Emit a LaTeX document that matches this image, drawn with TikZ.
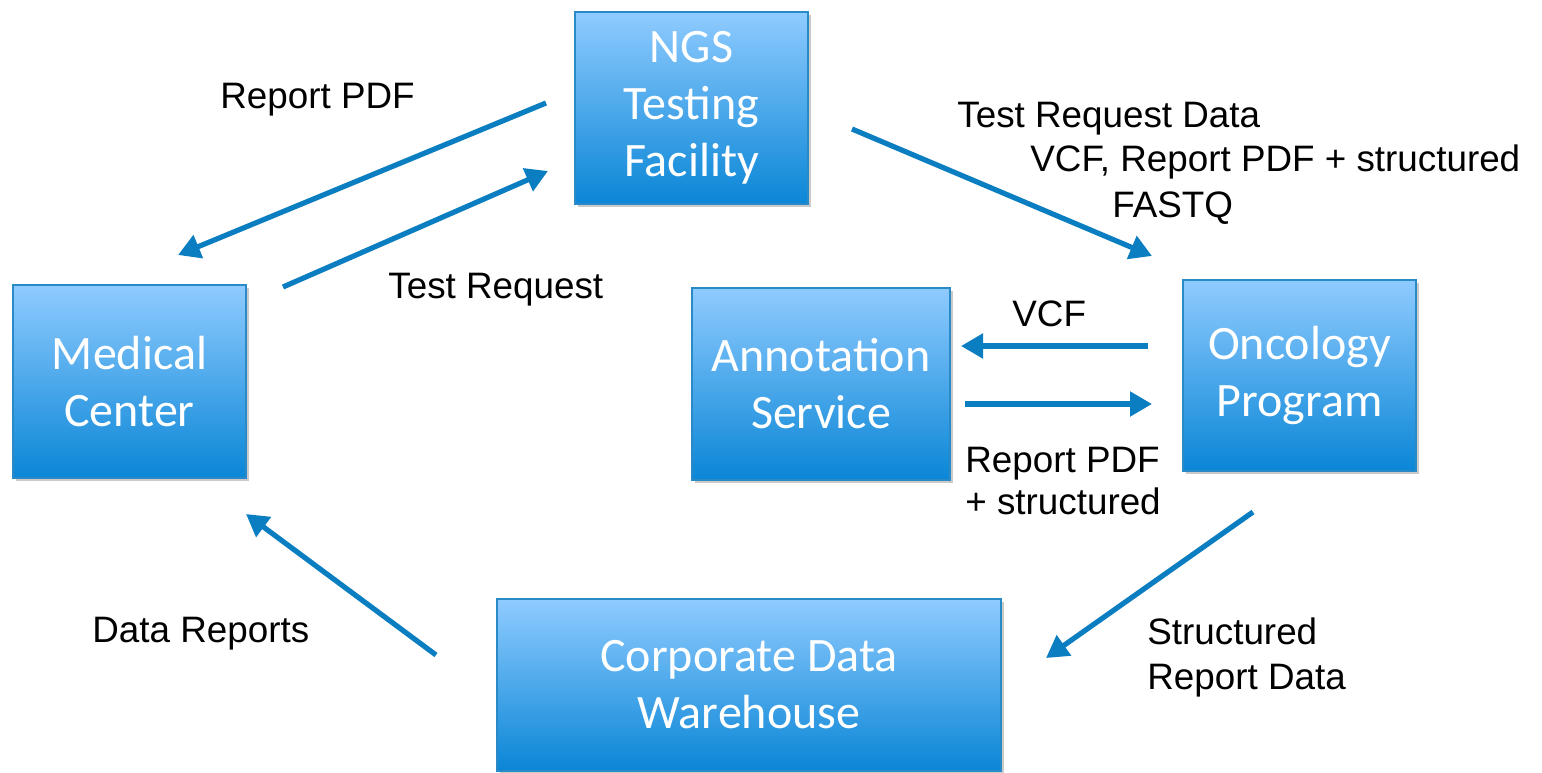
\documentclass[tikz,border=0pt]{standalone}
\usepackage{fontspec}
\setmainfont{Liberation Sans}
\newfontfamily\boxfont{Carlito}
\usetikzlibrary{arrows.meta,shadows}
\definecolor{arrowblue}{HTML}{0A7EC0}
\definecolor{boxtop}{HTML}{8FCBFF}
\definecolor{boxbot}{HTML}{0A86D6}
\definecolor{boxedge}{HTML}{2A8AC8}
\tikzset{
  sysbox/.style={draw=boxedge, line width=0.6pt, top color=boxtop, bottom color=boxbot,
    text=white, font=\boxfont\fontsize{24}{28.5}\selectfont, align=center, inner sep=0pt,
    drop shadow={shadow xshift=1.5pt, shadow yshift=-1.5pt, opacity=0.35, fill=black!60}},
  flow/.style={draw=arrowblue, line width=2.6pt, -{Triangle[length=11pt,width=12pt]}},
  lbl/.style={font=\fontsize{18.4}{22.5}\selectfont, text=black, anchor=west, align=left, inner sep=0pt}
}
\begin{document}
\begin{tikzpicture}[x=0.5pt,y=-0.5pt]
\useasboundingbox (0,0) rectangle (1542,772);
% boxes
\node[sysbox, minimum width=116.5pt, minimum height=96pt] (ngs) at (691.5,108) {NGS\\Testing\\Facility};
\node[sysbox, minimum width=116.5pt, minimum height=96.5pt] (med) at (129.5,381.5) {Medical\\Center};
\node[sysbox, minimum width=129pt, minimum height=96pt] (ann) at (821,384) {Annotation\\Service};
\node[sysbox, minimum width=116.5pt, minimum height=95.5pt] (onc) at (1299.5,375.5) {Oncology\\Program};
\node[sysbox, minimum width=252pt, minimum height=86pt] (cdw) at (749,685) {Corporate Data\\Warehouse};
% arrow endpoints
\coordinate (a1s) at (546,103); \coordinate (a1e) at (178,255);
\coordinate (a2s) at (283,287); \coordinate (a2e) at (548,171);
\coordinate (a3s) at (852,129); \coordinate (a3e) at (1152,256);
\coordinate (a4s) at (1148,346); \coordinate (a4e) at (961,346);
\coordinate (a5s) at (965,404); \coordinate (a5e) at (1152,404);
\coordinate (a6s) at (1253,512); \coordinate (a6e) at (1046,658);
\coordinate (a7s) at (436,655); \coordinate (a7e) at (246,514);
\draw[flow] (a1s) -- (a1e);
\draw[flow] (a2s) -- (a2e);
\draw[flow] (a3s) -- (a3e);
\draw[flow] (a4s) -- (a4e);
\draw[flow] (a5s) -- (a5e);
\draw[flow] (a6s) -- (a6e);
\draw[flow] (a7s) -- (a7e);
% labels
\node[lbl] (l1) at (220,100) {Report PDF};
\node[lbl] (l2) at (388,290) {Test Request};
\node[lbl] (l3a) at (957,119) {Test Request Data};
\node[lbl] (l3b) at (1030,162) {VCF, Report PDF + structured};
\node[lbl] (l3c) at (1112,208) {FASTQ};
\node[lbl] (l4) at (1012,314) {VCF};
\node[lbl, font=\fontsize{18.4}{21}\selectfont] (l5) at (965,481) {Report PDF\\+ structured};
\node[lbl] (l6) at (92,634) {Data Reports};
\node[lbl] (l7) at (1147,657) {Structured\\Report Data};
\end{tikzpicture}
\end{document}
